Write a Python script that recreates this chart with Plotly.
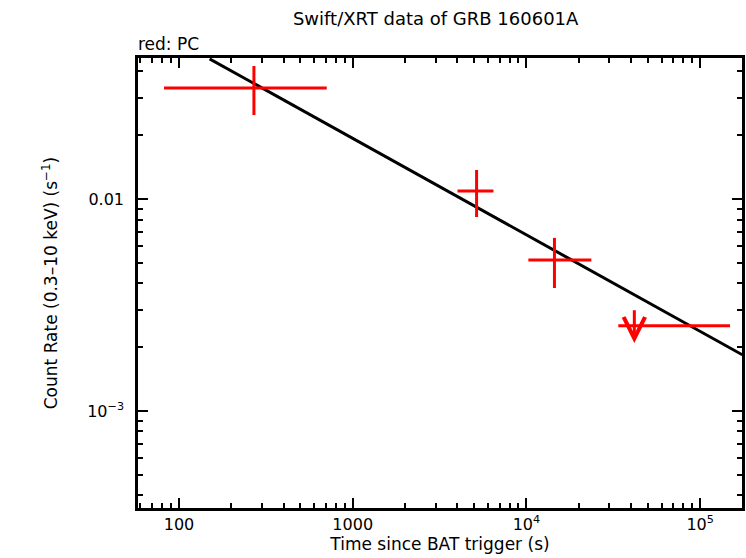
import numpy as np
import plotly.graph_objects as go

# ---- data ----
pc_t = [270, 5165, 14500]
pc_t_lo = [82, 4010, 10260]
pc_t_hi = [709, 6460, 23650]
pc_rate = [0.0334, 0.0109, 0.00515]
pc_rate_lo = [0.0249, 0.00822, 0.0038]
pc_rate_hi = [0.0424, 0.0137, 0.00655]

ul_t = [41800]
ul_t_lo = [33800]
ul_t_hi = [148600]
ul_rate = [0.00252]
ul_arrow_top = [0.00303]
ul_arrow_tip = [0.00209]

fit_t = [150, 175000]
fit_rate = [0.0458, 0.00184]

x_tickvals = [100, 1000, 1e4, 1e5]
x_ticktext = ["100", "1000", "10<sup>4</sup>", "10<sup>5</sup>"]
y_tickvals = [1e-3, 1e-2]
y_ticktext = ["10<sup>−3</sup>", "0.01"]

x_minor = [m * 10 ** d for d in range(1, 6) for m in range(2, 10)]
y_minor = [m * 10 ** d for d in range(-4, -1) for m in range(2, 10)]

RED = "#ff0000"
FONT = "DejaVu Sans, Liberation Sans, Arial, sans-serif"

fig = go.Figure()

# best-fit power law
fig.add_trace(go.Scatter(x=fit_t, y=fit_rate, mode="lines",
                         line=dict(color="black", width=3), hoverinfo="skip"))

# PC data points
fig.add_trace(go.Scatter(
    x=pc_t, y=pc_rate, mode="markers",
    marker=dict(size=1, color=RED),
    error_x=dict(type="data", symmetric=False,
                 array=[h - t for h, t in zip(pc_t_hi, pc_t)],
                 arrayminus=[t - l for t, l in zip(pc_t, pc_t_lo)],
                 color=RED, thickness=3, width=0),
    error_y=dict(type="data", symmetric=False,
                 array=[h - r for h, r in zip(pc_rate_hi, pc_rate)],
                 arrayminus=[r - l for r, l in zip(pc_rate, pc_rate_lo)],
                 color=RED, thickness=3, width=0),
))

# upper limit horizontal bar
fig.add_trace(go.Scatter(
    x=ul_t, y=ul_rate, mode="markers",
    marker=dict(size=1, color=RED),
    error_x=dict(type="data", symmetric=False,
                 array=[h - t for h, t in zip(ul_t_hi, ul_t)],
                 arrayminus=[t - l for t, l in zip(ul_t, ul_t_lo)],
                 color=RED, thickness=3, width=0),
))

# upper limit arrow
for t, top, tip in zip(ul_t, ul_arrow_top, ul_arrow_tip):
    fig.add_annotation(x=np.log10(t), y=np.log10(tip), xref="x", yref="y",
                       ax=np.log10(t), ay=np.log10(top), axref="x", ayref="y",
                       showarrow=True, arrowhead=5, arrowwidth=3, arrowsize=1.4,
                       arrowcolor=RED, text="", standoff=0)

fig.add_annotation(text="red: PC", xref="paper", yref="paper", x=0, y=1,
                   xanchor="left", yanchor="bottom", yshift=2, xshift=-2,
                   showarrow=False,
                   font=dict(size=17, color="black", family=FONT))

axis_common = dict(
    type="log", showgrid=False, zeroline=False,
    showline=True, linecolor="black", linewidth=2.5, mirror="ticks",
    ticks="inside", ticklen=10, tickwidth=2, tickcolor="black",
    tickfont=dict(size=16, color="black", family=FONT),
)

fig.update_xaxes(
    **axis_common,
    range=[1.764, 5.241],
    tickmode="array", tickvals=x_tickvals, ticktext=x_ticktext,
    minor=dict(tickmode="array", tickvals=x_minor, ticks="inside", ticklen=5,
               tickwidth=2, tickcolor="black"),
    title=dict(text="Time since BAT trigger (s)", standoff=4,
               font=dict(size=17, color="black", family=FONT)),
)
fig.update_yaxes(
    **axis_common,
    range=[-3.458, -1.335],
    tickmode="array", tickvals=y_tickvals, ticktext=y_ticktext,
    ticklabelstandoff=8,
    minor=dict(tickmode="array", tickvals=y_minor, ticks="inside", ticklen=5,
               tickwidth=2, tickcolor="black"),
    title=dict(text="Count Rate (0.3–10 keV) (s<sup>−1</sup>)", standoff=26,
               font=dict(size=17, color="black", family=FONT)),
)

fig.update_layout(
    width=746, height=558,
    margin=dict(l=138, r=4, t=58, b=50, autoexpand=False),
    paper_bgcolor="white", plot_bgcolor="white",
    showlegend=False,
    title=dict(text="Swift/XRT data of GRB 160601A", x=0.584, xanchor="center",
               y=1 - 19 / 558, yanchor="middle", yref="container",
               font=dict(size=18, color="black", family=FONT)),
    font=dict(family=FONT, color="black"),
)

fig.write_html("out.html",
               config={"displayModeBar": False},
               post_script="document.body.style.margin='0';document.body.style.padding='0';")
